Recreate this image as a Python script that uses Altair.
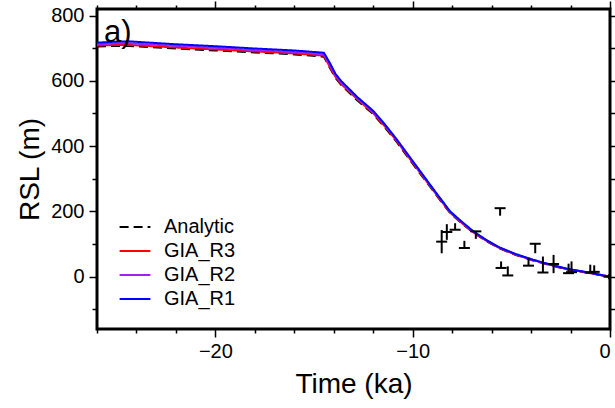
import altair as alt
import pandas as pd

# ---- data ----
time_ka = [-26, -25, -24.4, -22, -20, -18, -16, -14.5, -14.2, -13.9, -13.6, -12.8, -12.0,
           -11.4, -10.8, -9.8, -8.8, -8.1, -7.5, -6.9, -6.2, -5.6, -4.8, -3.9, -3.0, -2.2, -1.0, 0]
analytic = [705, 707, 707, 699, 693, 687, 681, 674, 640, 608, 586, 540, 498,
            457, 412, 330, 250, 195, 163, 134, 107, 87, 67, 50, 35, 23, 11, 0]
gia_r3 = [708, 710, 710, 702, 696, 690, 684, 677, 643, 611, 589, 543, 501,
          460, 415, 333, 252, 196, 164, 135, 108, 88, 68, 51, 36, 24, 11, 0]
gia_r2 = [712, 715, 715, 707, 701, 694, 688, 681, 648, 615, 593, 546, 504,
          463, 418, 335, 254, 198, 166, 136, 109, 89, 69, 51, 36, 24, 12, 0]
gia_r1 = [717, 720, 721, 712, 706, 699, 693, 686, 655, 620, 598, 550, 508,
          466, 420, 338, 256, 200, 168, 138, 110, 90, 70, 52, 37, 25, 12, 0]

series_names = ["Analytic", "GIA_R3", "GIA_R2", "GIA_R1"]
series_colors = ["#000000", "#ff0000", "#a020f0", "#0000ff"]
series_dash = [[9, 5], [1, 0], [1, 0], [1, 0]]

obs_time = [-8.53, -8.27, -7.85, -7.38, -6.80, -5.57, -5.52, -5.18, -4.13, -3.79,
            -3.40, -2.86, -2.10, -1.95, -1.00, -0.80, -0.05]
obs_low = [72, 113, 144, 88, 116, 187, 27, 4, 34, 72, 13, 11, 11, 14, 13, 15, -8]
obs_high = [143, 161, 164, 110, 139, 210, 47, 32, 57, 101, 62, 67, 40, 47, 37, 35, 8]
obs_kind = ["index", "index", "lower", "lower", "upper", "upper", "lower", "lower", "lower",
            "upper", "lower", "index", "lower", "lower", "lower", "lower", "index"]

panel_label = ["a)"]

x_ticks = list(range(-26, 1, 2))
y_ticks = list(range(-100, 801, 100))

# ---- tables ----
rows = []
for name, vals in zip(series_names, [analytic, gia_r3, gia_r2, gia_r1]):
    for t, v in zip(time_ka, vals):
        rows.append({"series": name, "t": t, "rsl": v})
curves = pd.DataFrame(rows)

obs = pd.DataFrame({"t": obs_time, "lo": obs_low, "hi": obs_high, "kind": obs_kind})
obs["cap"] = [
    h if k == "upper" else (l if k == "lower" else (l + h) / 2)
    for l, h, k in zip(obs["lo"], obs["hi"], obs["kind"])
]

FONT = "Liberation Sans"
xscale = alt.Scale(domain=[-26, 0], nice=False, zero=False)
yscale = alt.Scale(domain=[-160, 820], nice=False, zero=False)

x_main = alt.Axis(values=x_ticks, labelExpr="datum.value % 10 === 0 ? datum.label : ''",
                  tickSize={"condition": {"test": "datum.value % 10 === 0", "value": 8}, "value": 4},
                  title="Time (ka)", domain=False, grid=False, orient="bottom",
                  labelPadding=4, titlePadding=9)
y_main = alt.Axis(values=y_ticks, labelExpr="datum.value % 200 === 0 ? datum.label : ''",
                  tickSize={"condition": {"test": "datum.value % 200 === 0", "value": 8}, "value": 5},
                  title="RSL (m)", domain=False, grid=False, orient="left",
                  labelPadding=5, titlePadding=6)
x_top = alt.Axis(values=x_ticks, labels=False, title=None, domain=False, grid=False, orient="top",
                 tickSize={"condition": {"test": "datum.value % 10 === 0", "value": 8}, "value": 4})
y_right = alt.Axis(values=y_ticks, labels=False, title=None, domain=False, grid=False, orient="right",
                   tickSize={"condition": {"test": "datum.value % 200 === 0", "value": 8}, "value": 5})

color_enc = alt.Color("series:N", scale=alt.Scale(domain=series_names, range=series_colors),
                      legend=alt.Legend(title=None, orient="none", legendX=26, legendY=206,
                                        symbolType="M-1.4,0L1.4,0", symbolSize=484,
                                        symbolStrokeWidth=2,
                                        labelFontSize=20, labelFont=FONT, labelOffset=17,
                                        rowPadding=2, padding=0, symbolOffset=0))
dash_enc = alt.StrokeDash("series:N", scale=alt.Scale(domain=series_names, range=series_dash),
                          legend=None)

layers = []
for i, name in enumerate(series_names):
    enc = dict(
        x=alt.X("t:Q", scale=xscale, axis=x_main if i == 0 else None),
        y=alt.Y("rsl:Q", scale=yscale, axis=y_main if i == 0 else None),
        color=color_enc,
        strokeDash=dash_enc,
    )
    layers.append(
        alt.Chart(curves).transform_filter(alt.datum.series == name)
        .mark_line(strokeWidth=2, clip=True).encode(**enc)
    )

bars = alt.Chart(obs).mark_rule(color="black", strokeWidth=2, clip=True).encode(
    x=alt.X("t:Q", scale=xscale, axis=x_top),
    y=alt.Y("lo:Q", scale=yscale, axis=y_right),
    y2="hi:Q",
)
caps = alt.Chart(obs).mark_point(shape="M-1,0L1,0", size=121, strokeWidth=2, filled=False,
                                 color="black", opacity=1, clip=True).encode(
    x=alt.X("t:Q", scale=xscale, axis=None),
    y=alt.Y("cap:Q", scale=yscale, axis=None),
)

label = alt.Chart(pd.DataFrame({"txt": panel_label})).mark_text(
    align="left", baseline="alphabetic", fontSize=31, font=FONT, color="black"
).encode(x=alt.value(7), y=alt.value(33), text="txt:N")

chart = alt.layer(*layers, bars, caps, label).resolve_axis(
    x="independent", y="independent"
).properties(
    width=513, height=320,
    autosize=alt.AutoSizeParams(type="none"),
    padding={"left": 97, "top": 9, "right": 5, "bottom": 79},
).configure_view(stroke="black", strokeWidth=3).configure_axis(
    labelFont=FONT, titleFont=FONT, labelFontSize=20, titleFontSize=28,
    titleFontWeight="normal", labelColor="black", titleColor="black",
    tickColor="black", tickWidth=1.5,
)

chart.save("out.html", embed_options={"renderer": "svg", "actions": False})
